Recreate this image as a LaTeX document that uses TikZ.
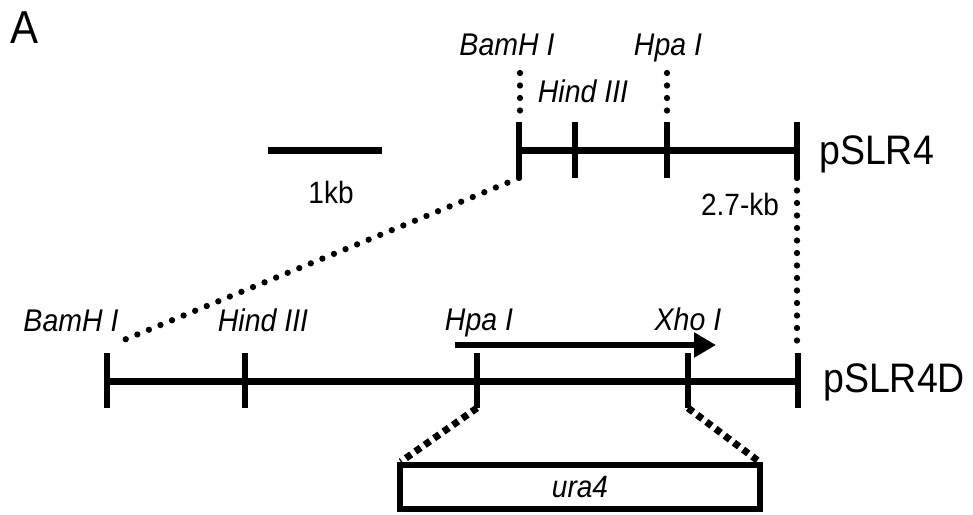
\documentclass[tikz,border=0pt]{standalone}
\usepackage{fontspec}
\setmainfont{Liberation Sans}
\usetikzlibrary{arrows.meta}
\newcommand\vstr[1]{\scalebox{1}[1.1]{#1}}
\begin{document}
\begin{tikzpicture}[x=1pt,y=-1pt,
  dna/.style={line width=7pt},
  sitetick/.style={line width=6.5pt},
  rounddots/.style={line width=6.3pt, line cap=round, dash pattern=on 0pt off 12.5pt},
  sqdots/.style={line width=7pt, dash pattern=on 6.5pt off 5pt},
  enz/.style={font=\fontsize{28.5}{31}\selectfont\itshape, inner sep=0pt, anchor=base},
  lbl/.style={font=\fontsize{28}{31}\selectfont, inner sep=0pt, anchor=base},
  plas/.style={font=\fontsize{37.5}{40}\selectfont, inner sep=0pt, anchor=base west}]
\path[use as bounding box] (0,0) rectangle (973,514);

% panel letter
\node[font=\fontsize{42}{46}\selectfont, inner sep=0pt, anchor=base west] (panel) at (10,43) {\vstr{A}};

% scale bar
\coordinate (sbL) at (268,150);
\coordinate (sbR) at (382,150);
\draw[dna] (sbL) -- (sbR);
\node[lbl] (kb) at (331,203) {\vstr{1kb}};

% pSLR4
\foreach \n/\x in {t0/519,t1/575,t2/667,t3/797} {
  \coordinate (\n) at (\x,150);
  \coordinate (\n u) at (\x,122);
  \coordinate (\n d) at (\x,178);
  \draw[sitetick] (\n u) -- (\n d);
}
\draw[dna] (t0) -- (t3);
\node[plas] (p4) at (819,164) {\vstr{pSLR4}};
\node[enz] (tBam) at (507,55) {\vstr{BamH I}};
\node[enz] (tHpa) at (668,55) {\vstr{Hpa I}};
\node[enz] (tHind) at (583,102) {\vstr{Hind III}};
\coordinate (tBamA) at (520,73);
\coordinate (tBamB) at (520,116);
\coordinate (tHpaA) at (667,73);
\coordinate (tHpaB) at (667,116);
\draw[rounddots] (tBamA) -- (tBamB);
\draw[rounddots] (tHpaA) -- (tHpaB);
\node[lbl] (len) at (740,215) {\vstr{2.7-kb}};

% pSLR4D
\foreach \n/\x in {b0/107,b1/245,b2/477,b3/688,b4/798} {
  \coordinate (\n) at (\x,381);
  \coordinate (\n u) at (\x,353);
  \coordinate (\n d) at (\x,408);
  \draw[sitetick] (\n u) -- (\n d);
}
\draw[dna] (b0) -- (b4);
\node[plas] (p4d) at (823,392) {\vstr{pSLR4D}};
\node[enz] (bBam) at (71,331) {\vstr{BamH I}};
\node[enz] (bHind) at (263,331) {\vstr{Hind III}};
\node[enz] (bHpa) at (479,330) {\vstr{Hpa I}};
\node[enz] (bXho) at (688,330) {\vstr{Xho I}};

% ura4 orientation arrow
\coordinate (arrS) at (455,345);
\coordinate (arrE) at (716,345);
\draw[line width=6.5pt, -{Triangle[length=22pt,width=24pt]}] (arrS) -- (arrE);

% expansion lines
\coordinate (diagEnd) at (119,342);
\draw[rounddots] (t0d) -- (diagEnd);
\coordinate (vertEnd) at (797,350);
\draw[rounddots] (t3d) -- (vertEnd);

% ura4 box
\node[draw, line width=6.5pt, minimum width=360pt, minimum height=44pt, inner sep=0pt,
      font=\fontsize{28}{31}\selectfont\itshape] (ura) at (580,487) {\vstr{ura4}};
\draw[sqdots] (b2d) -- ([xshift=4pt]ura.north west);
\draw[sqdots] (b3d) -- ([xshift=-4pt]ura.north east);
\end{tikzpicture}
\end{document}
